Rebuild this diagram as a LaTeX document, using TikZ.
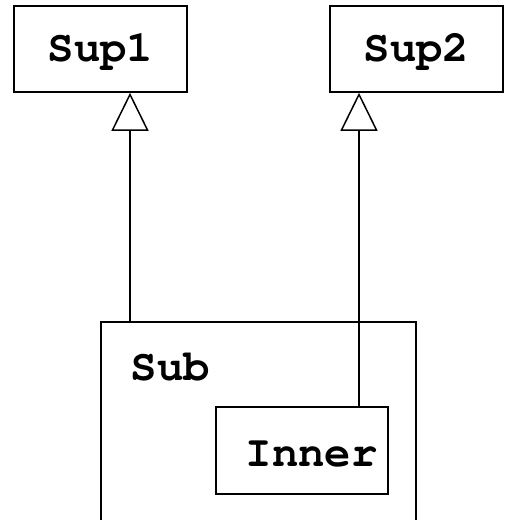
\documentclass[tikz,border=0pt]{standalone}
\usepackage{fontspec}
\setmonofont{TeX Gyre Cursor}
\usetikzlibrary{arrows.meta}
\begin{document}
\begin{tikzpicture}[x=1pt,y=-1pt,line width=1.5pt,
  classbox/.style={draw,rectangle,inner sep=0pt,font=\ttfamily\bfseries\fontsize{44}{44}\selectfont,
    text height=25pt,text depth=0pt},
  lbl/.style={inner sep=0pt,anchor=base west,font=\ttfamily\bfseries\fontsize{44}{44}\selectfont},
  inherit/.style={-{Triangle[open,length=38pt,width=37pt]}}]
\useasboundingbox (0,0) rectangle (504,520);
\clip (0,0) rectangle (504,520);
% superclasses
\node[classbox,minimum width=173pt,minimum height=86pt] (sup1) at (100.5,49) {Sup1};
\node[classbox,minimum width=173pt,minimum height=86pt] (sup2) at (416.5,49) {Sup2};
% subclass, running past the lower edge
\node[draw,rectangle,minimum width=315pt,minimum height=220pt,inner sep=0pt] (sub) at (258.5,432) {};
\node[lbl] (sublbl) at (130,380) {Sub};
% nested class
\node[draw,rectangle,minimum width=172pt,minimum height=87pt,inner sep=0pt] (inner) at (302,450.5) {};
\node[lbl] (innerlbl) at (245,466) {Inner};
% generalization connectors
\coordinate (c1) at (130,0);
\coordinate (c2) at (359,0);
\draw[inherit] (c1 |- sub.north) -- (c1 |- sup1.south);
\draw[inherit] (c2 |- inner.north) -- (c2 |- sup2.south);
\end{tikzpicture}
\end{document}
